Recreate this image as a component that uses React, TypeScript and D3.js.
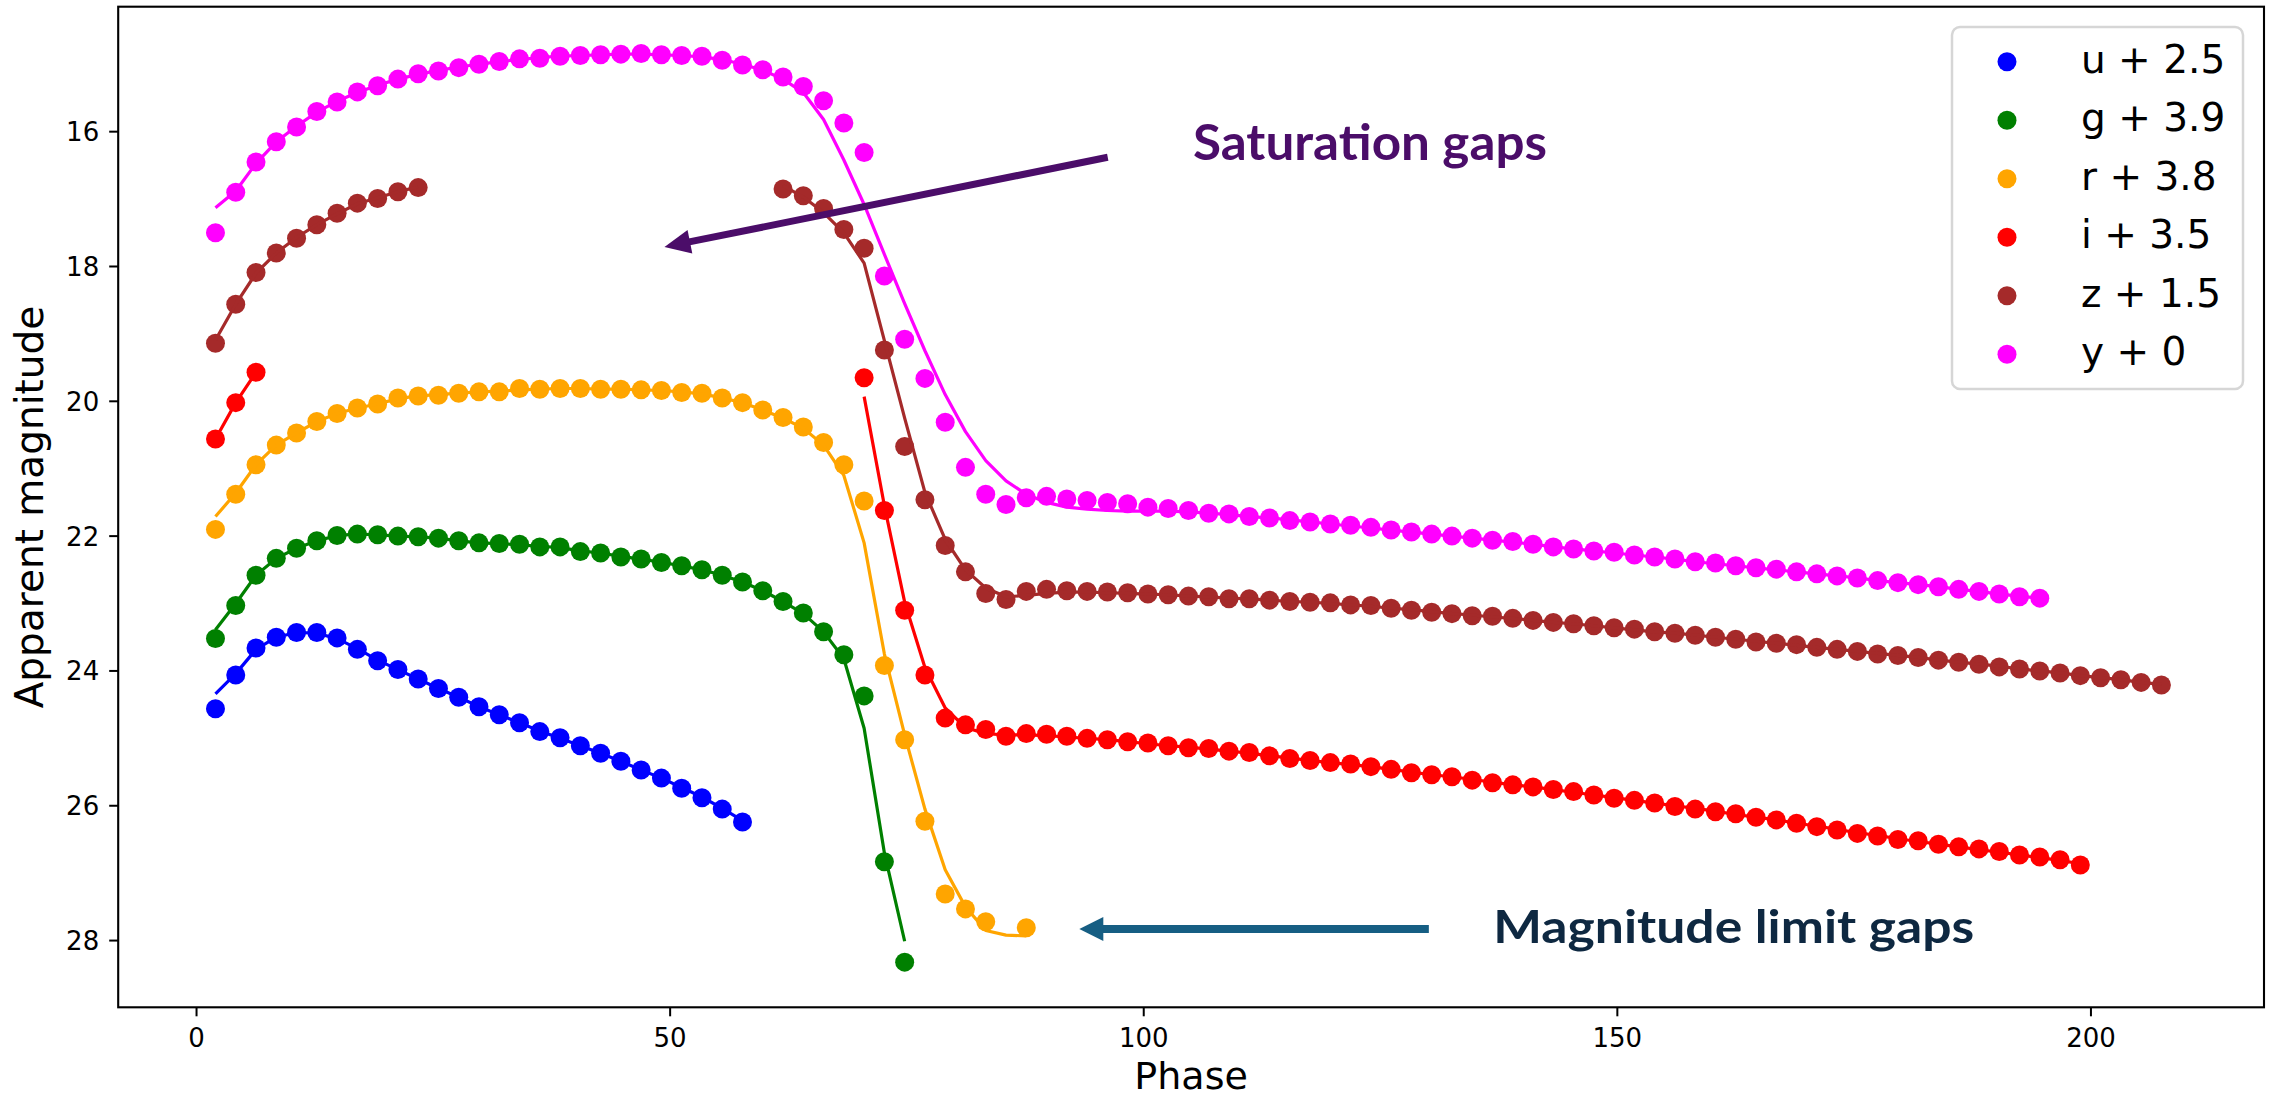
import React from "react";
import * as d3 from "d3";

// Shared phase grid (days), one entry per observation epoch
const PHASE = [
  2.0, 4.14, 6.28, 8.42, 10.56, 12.7, 14.84, 16.98, 19.12, 21.26,
  23.4, 25.54, 27.68, 29.82, 31.96, 34.1, 36.24, 38.38, 40.52, 42.66,
  44.8, 46.94, 49.08, 51.22, 53.36, 55.5, 57.64, 59.78, 61.92, 64.06,
  66.2, 68.34, 70.48, 72.62, 74.76, 76.9, 79.04, 81.18, 83.32, 85.46,
  87.6, 89.74, 91.88, 94.02, 96.16, 98.3, 100.44, 102.58, 104.72, 106.86,
  109.0, 111.14, 113.28, 115.42, 117.56, 119.7, 121.84, 123.98, 126.12, 128.26,
  130.4, 132.54, 134.68, 136.82, 138.96, 141.1, 143.24, 145.38, 147.52, 149.66,
  151.8, 153.94, 156.08, 158.22, 160.36, 162.5, 164.64, 166.78, 168.92, 171.06,
  173.2, 175.34, 177.48, 179.62, 181.76, 183.9, 186.04, 188.18, 190.32, 192.46,
  194.6, 196.74, 198.88, 201.02, 203.16, 205.3, 207.44,
];

// u + 2.5 (starts at grid index 0)
const U_MAG = [24.56, 24.06, 23.66, 23.5, 23.43, 23.43, 23.51, 23.68, 23.85, 23.98, 24.12, 24.26, 24.39, 24.53, 24.65, 24.77, 24.9, 24.99, 25.11, 25.22, 25.34, 25.47, 25.59, 25.74, 25.88, 26.05, 26.24];
const U_FIT = [24.34, 24.04, 23.68, 23.5, 23.43, 23.44, 23.52, 23.67, 23.84, 23.98, 24.12, 24.26, 24.39, 24.53, 24.65, 24.77, 24.89, 25.0, 25.11, 25.22, 25.34, 25.47, 25.59, 25.73, 25.87, 26.04, 26.22];

// g + 3.9 (index 0)
const G_MAG = [23.52, 23.03, 22.58, 22.33, 22.18, 22.07, 21.99, 21.97, 21.98, 22.0, 22.01, 22.03, 22.07, 22.1, 22.11, 22.12, 22.16, 22.16, 22.23, 22.25, 22.31, 22.34, 22.39, 22.44, 22.5, 22.58, 22.68, 22.81, 22.97, 23.14, 23.42, 23.76, 24.37, 26.83, 28.32];
const G_FIT = [23.39, 23.0, 22.58, 22.33, 22.18, 22.07, 21.99, 21.97, 21.98, 22.0, 22.01, 22.03, 22.07, 22.1, 22.11, 22.13, 22.15, 22.17, 22.22, 22.25, 22.3, 22.34, 22.39, 22.44, 22.5, 22.58, 22.68, 22.81, 22.97, 23.15, 23.42, 23.82, 24.85, 26.7, 28.01];

// r + 3.8 (index 0); null = no detection
const R_MAG = [21.9, 21.38, 20.94, 20.65, 20.47, 20.3, 20.18, 20.1, 20.04, 19.95, 19.92, 19.91, 19.88, 19.86, 19.86, 19.81, 19.82, 19.81, 19.81, 19.82, 19.82, 19.83, 19.84, 19.87, 19.88, 19.95, 20.02, 20.13, 20.24, 20.38, 20.61, 20.94, 21.48, 23.92, 25.02, 26.23, 27.31, 27.53, 27.72, null, 27.81];
const R_FIT = [21.71, 21.36, 20.94, 20.65, 20.47, 20.3, 20.18, 20.1, 20.04, 19.96, 19.92, 19.9, 19.88, 19.86, 19.85, 19.83, 19.82, 19.81, 19.81, 19.82, 19.82, 19.83, 19.84, 19.86, 19.89, 19.95, 20.02, 20.13, 20.25, 20.4, 20.65, 21.1, 22.1, 23.75, 24.95, 26.05, 26.95, 27.5, 27.85, 27.92, 27.93];

// i + 3.5 : early part (index 0) and late part (index 32)
const I_MAG_EARLY = [20.56, 20.02, 19.57];
const I_FIT_EARLY = [20.56, 20.02, 19.57];
const I_MAG_LATE = [19.65, 21.62, 23.1, 24.06, 24.7, 24.8, 24.87, 24.97, 24.93, 24.94, 24.97, 25.0, 25.02, 25.05, 25.07, 25.11, 25.14, 25.15, 25.19, 25.21, 25.26, 25.3, 25.33, 25.36, 25.38, 25.42, 25.46, 25.51, 25.54, 25.57, 25.62, 25.66, 25.69, 25.72, 25.76, 25.79, 25.84, 25.89, 25.92, 25.96, 26.01, 26.05, 26.09, 26.12, 26.17, 26.21, 26.26, 26.31, 26.36, 26.41, 26.45, 26.5, 26.52, 26.57, 26.61, 26.64, 26.68, 26.73, 26.76, 26.8, 26.88];
const I_FIT_LATE = [19.93, 21.55, 22.98, 23.95, 24.55, 24.84, 24.93, 24.95, 24.95, 24.96, 24.98, 25.0, 25.02, 25.05, 25.08, 25.11, 25.13, 25.16, 25.19, 25.22, 25.26, 25.29, 25.33, 25.36, 25.39, 25.42, 25.46, 25.5, 25.54, 25.57, 25.61, 25.65, 25.69, 25.72, 25.76, 25.8, 25.84, 25.88, 25.92, 25.96, 26.0, 26.04, 26.08, 26.13, 26.17, 26.21, 26.26, 26.3, 26.35, 26.4, 26.44, 26.49, 26.53, 26.57, 26.61, 26.65, 26.69, 26.73, 26.77, 26.81, 26.86];

// z + 1.5 : early part (index 0) and late part (index 28)
const Z_MAG_EARLY = [19.14, 18.56, 18.09, 17.8, 17.58, 17.38, 17.21, 17.06, 16.99, 16.89, 16.83];
const Z_FIT_EARLY = [19.09, 18.56, 18.1, 17.8, 17.57, 17.38, 17.22, 17.07, 16.98, 16.89, 16.82];
const Z_MAG_LATE = [16.85, 16.95, 17.14, 17.45, 17.73, 19.24, 20.67, 21.46, 22.14, 22.53, 22.85, 22.94, 22.82, 22.79, 22.81, 22.82, 22.83, 22.84, 22.86, 22.87, 22.89, 22.9, 22.93, 22.93, 22.95, 22.97, 22.98, 22.99, 23.02, 23.03, 23.07, 23.1, 23.13, 23.15, 23.18, 23.19, 23.22, 23.25, 23.28, 23.3, 23.33, 23.36, 23.38, 23.42, 23.44, 23.47, 23.5, 23.53, 23.57, 23.59, 23.61, 23.65, 23.68, 23.71, 23.75, 23.77, 23.8, 23.84, 23.87, 23.9, 23.94, 23.97, 24.0, 24.03, 24.07, 24.1, 24.13, 24.17, 24.21];
const Z_FIT_LATE = [16.8, 16.97, 17.2, 17.5, 17.95, 19.1, 20.25, 21.35, 22.05, 22.5, 22.77, 22.9, 22.88, 22.85, 22.83, 22.83, 22.84, 22.85, 22.86, 22.87, 22.89, 22.9, 22.92, 22.93, 22.95, 22.97, 22.98, 23.0, 23.02, 23.04, 23.07, 23.09, 23.12, 23.15, 23.17, 23.2, 23.22, 23.25, 23.28, 23.3, 23.33, 23.36, 23.39, 23.42, 23.44, 23.47, 23.5, 23.53, 23.56, 23.59, 23.62, 23.65, 23.68, 23.71, 23.74, 23.77, 23.8, 23.84, 23.87, 23.9, 23.93, 23.97, 24.0, 24.03, 24.07, 24.1, 24.13, 24.17, 24.2];

// y + 0 (index 0)
const Y_MAG = [17.5, 16.9, 16.45, 16.15, 15.93, 15.7, 15.56, 15.41, 15.32, 15.22, 15.14, 15.1, 15.05, 15.0, 14.96, 14.92, 14.91, 14.88, 14.87, 14.86, 14.85, 14.84, 14.86, 14.87, 14.88, 14.94, 15.01, 15.08, 15.19, 15.33, 15.54, 15.87, 16.31, 18.14, 19.08, 19.66, 20.31, 20.98, 21.38, 21.53, 21.43, 21.41, 21.45, 21.47, 21.5, 21.52, 21.57, 21.59, 21.62, 21.66, 21.67, 21.71, 21.73, 21.77, 21.79, 21.82, 21.84, 21.87, 21.91, 21.94, 21.97, 22.0, 22.03, 22.06, 22.08, 22.12, 22.16, 22.19, 22.22, 22.24, 22.28, 22.31, 22.34, 22.38, 22.4, 22.44, 22.47, 22.49, 22.53, 22.56, 22.59, 22.62, 22.66, 22.69, 22.72, 22.75, 22.79, 22.82, 22.86, 22.9, 22.92];
const Y_FIT = [17.13, 16.88, 16.47, 16.15, 15.92, 15.71, 15.55, 15.42, 15.31, 15.22, 15.15, 15.09, 15.04, 15.0, 14.96, 14.93, 14.9, 14.88, 14.87, 14.86, 14.85, 14.85, 14.86, 14.87, 14.89, 14.93, 15.0, 15.09, 15.22, 15.42, 15.82, 16.42, 17.08, 17.82, 18.55, 19.25, 19.9, 20.45, 20.88, 21.18, 21.38, 21.5, 21.57, 21.6, 21.62, 21.63, 21.63, 21.63, 21.64, 21.66, 21.68, 21.71, 21.73, 21.76, 21.79, 21.82, 21.85, 21.88, 21.91, 21.94, 21.97, 22.0, 22.03, 22.06, 22.09, 22.12, 22.16, 22.19, 22.22, 22.25, 22.28, 22.31, 22.34, 22.38, 22.41, 22.44, 22.47, 22.5, 22.53, 22.56, 22.59, 22.62, 22.66, 22.69, 22.72, 22.75, 22.79, 22.82, 22.86, 22.89, 22.92];

const BAND_LABELS = ["u + 2.5", "g + 3.9", "r + 3.8", "i + 3.5", "z + 1.5", "y + 0"];
const BAND_COLORS = ["#0000ff", "#008000", "#ffa500", "#ff0000", "#a52a2a", "#ff00ff"];

const X_TICKS = [0, 50, 100, 150, 200];
const Y_TICKS = [16, 18, 20, 22, 24, 26, 28];

// Annotation anchors in data coordinates: [phase, magnitude]
const SAT_ARROW = { tip: [49.4, 17.71], tail: [96.2, 16.38], text: "Saturation gaps", textAt: [105.2, 16.42] };
const LIM_ARROW = { tip: [93.2, 27.83], tail: [130.1, 27.83], text: "Magnitude limit gaps", textAt: [136.9, 28.04] };

const bands = [
  { segs: [{ start: 0, mag: U_MAG, fit: U_FIT }] },
  { segs: [{ start: 0, mag: G_MAG, fit: G_FIT }] },
  { segs: [{ start: 0, mag: R_MAG, fit: R_FIT }] },
  { segs: [{ start: 0, mag: I_MAG_EARLY, fit: I_FIT_EARLY }, { start: 32, mag: I_MAG_LATE, fit: I_FIT_LATE }] },
  { segs: [{ start: 0, mag: Z_MAG_EARLY, fit: Z_FIT_EARLY }, { start: 28, mag: Z_MAG_LATE, fit: Z_FIT_LATE }] },
  { segs: [{ start: 0, mag: Y_MAG, fit: Y_FIT }] },
];

const W = 2272;
const H = 1099;

function Arrow({ x1, y1, x2, y2, color, width, headLen, headHalf }) {
  // x1,y1 = tail ; x2,y2 = tip
  const dx = x2 - x1;
  const dy = y2 - y1;
  const len = Math.hypot(dx, dy);
  const ux = dx / len;
  const uy = dy / len;
  const bx = x2 - ux * headLen;
  const by = y2 - uy * headLen;
  const px = -uy;
  const py = ux;
  const pts = [
    [x2, y2],
    [bx + px * headHalf, by + py * headHalf],
    [bx - px * headHalf, by - py * headHalf],
  ];
  return (
    <g>
      <line x1={x1} y1={y1} x2={bx + ux * 2} y2={by + uy * 2} stroke={color} strokeWidth={width} />
      <polygon points={pts.map((p) => p.join(",")).join(" ")} fill={color} />
    </g>
  );
}

export default function App() {
  const left = 118.2, right = 2264, top = 6.7, bottom = 1007.3;
  const x = d3.scaleLinear().domain([-8.27, 218.27]).range([left, right]);
  const y = d3.scaleLinear().domain([14.146, 28.99]).range([top, bottom]);

  const lineGen = d3
    .line<[number, number]>()
    .x((d) => x(d[0]))
    .y((d) => y(d[1]));

  const tickFont = "'DejaVu Sans', sans-serif";

  return (
    <div style={{ position: "absolute", left: 0, top: 0 }}>
      <svg width={W} height={H} viewBox={`0 0 ${W} ${H}`} style={{ display: "block", background: "#fff" }}>
        <rect x={0} y={0} width={W} height={H} fill="#fff" />

        {/* data */}
        {bands.map((b, bi) => (
          <g key={bi}>
            {b.segs.map((s, si) => {
              const pts = s.mag
                .map((m, i) => (m == null ? null : [PHASE[s.start + i], m]))
                .filter((p) => p != null);
              const fitPts = s.fit.map((m, i) => [PHASE[s.start + i], m] as [number, number]);
              return (
                <g key={si}>
                  {pts.map((p, pi) => (
                    <circle key={pi} cx={x(p[0])} cy={y(p[1])} r={9.5} fill={BAND_COLORS[bi]} />
                  ))}
                  <path d={lineGen(fitPts) || ""} fill="none" stroke={BAND_COLORS[bi]} strokeWidth={3.2} strokeLinejoin="round" />
                </g>
              );
            })}
          </g>
        ))}

        {/* spines */}
        <rect x={left} y={top} width={right - left} height={bottom - top} fill="none" stroke="#000" strokeWidth={2.1} />

        {/* x ticks */}
        {X_TICKS.map((t) => (
          <g key={t}>
            <line x1={x(t)} x2={x(t)} y1={bottom} y2={bottom + 9} stroke="#000" strokeWidth={2} />
            <text x={x(t)} y={1047} textAnchor="middle" fontFamily={tickFont} fontSize={26} fill="#000">
              {t}
            </text>
          </g>
        ))}
        {/* y ticks */}
        {Y_TICKS.map((t) => (
          <g key={t}>
            <line x1={left - 9} x2={left} y1={y(t)} y2={y(t)} stroke="#000" strokeWidth={2} />
            <text x={left - 19} y={y(t) + 9.5} textAnchor="end" fontFamily={tickFont} fontSize={26} fill="#000">
              {t}
            </text>
          </g>
        ))}

        {/* axis labels */}
        <text x={(left + right) / 2} y={1089} textAnchor="middle" fontFamily={tickFont} fontSize={38} fill="#000">
          Phase
        </text>
        <text
          transform={`translate(43, ${(top + bottom) / 2}) rotate(-90)`}
          textAnchor="middle"
          fontFamily={tickFont}
          fontSize={39}
          fill="#000"
        >
          Apparent magnitude
        </text>

        {/* legend */}
        <rect x={1952} y={27} width={291} height={362} rx={8} ry={8} fill="#fff" fillOpacity={0.8} stroke="#d6d6d6" strokeWidth={2.5} />
        {BAND_LABELS.map((lab, i) => (
          <g key={lab}>
            <circle cx={2007} cy={61.7 + i * 58.5} r={9.5} fill={BAND_COLORS[i]} />
            <text x={2081} y={61.7 + i * 58.5 + 11} fontFamily={tickFont} fontSize={39} fill="#000">
              {lab}
            </text>
          </g>
        ))}

        {/* annotations */}
        <Arrow
          x1={x(SAT_ARROW.tail[0])}
          y1={y(SAT_ARROW.tail[1])}
          x2={x(SAT_ARROW.tip[0])}
          y2={y(SAT_ARROW.tip[1])}
          color="#4b0d69"
          width={7}
          headLen={26}
          headHalf={12}
        />
        <text
          x={x(SAT_ARROW.textAt[0])}
          y={y(SAT_ARROW.textAt[1])}
          fontFamily="Lato, 'Open Sans', sans-serif"
          fontWeight={700}
          fontSize={49}
          fill="#4b0d69"
          textLength={354}
          lengthAdjust="spacingAndGlyphs"
        >
          {SAT_ARROW.text}
        </text>
        <Arrow
          x1={x(LIM_ARROW.tail[0])}
          y1={y(LIM_ARROW.tail[1])}
          x2={x(LIM_ARROW.tip[0])}
          y2={y(LIM_ARROW.tip[1])}
          color="#165e83"
          width={8}
          headLen={24}
          headHalf={12}
        />
        <text
          x={x(LIM_ARROW.textAt[0])}
          y={y(LIM_ARROW.textAt[1])}
          fontFamily="Lato, 'Open Sans', sans-serif"
          fontWeight={700}
          fontSize={46}
          fill="#0e2841"
          textLength={481}
          lengthAdjust="spacingAndGlyphs"
        >
          {LIM_ARROW.text}
        </text>
      </svg>
    </div>
  );
}
